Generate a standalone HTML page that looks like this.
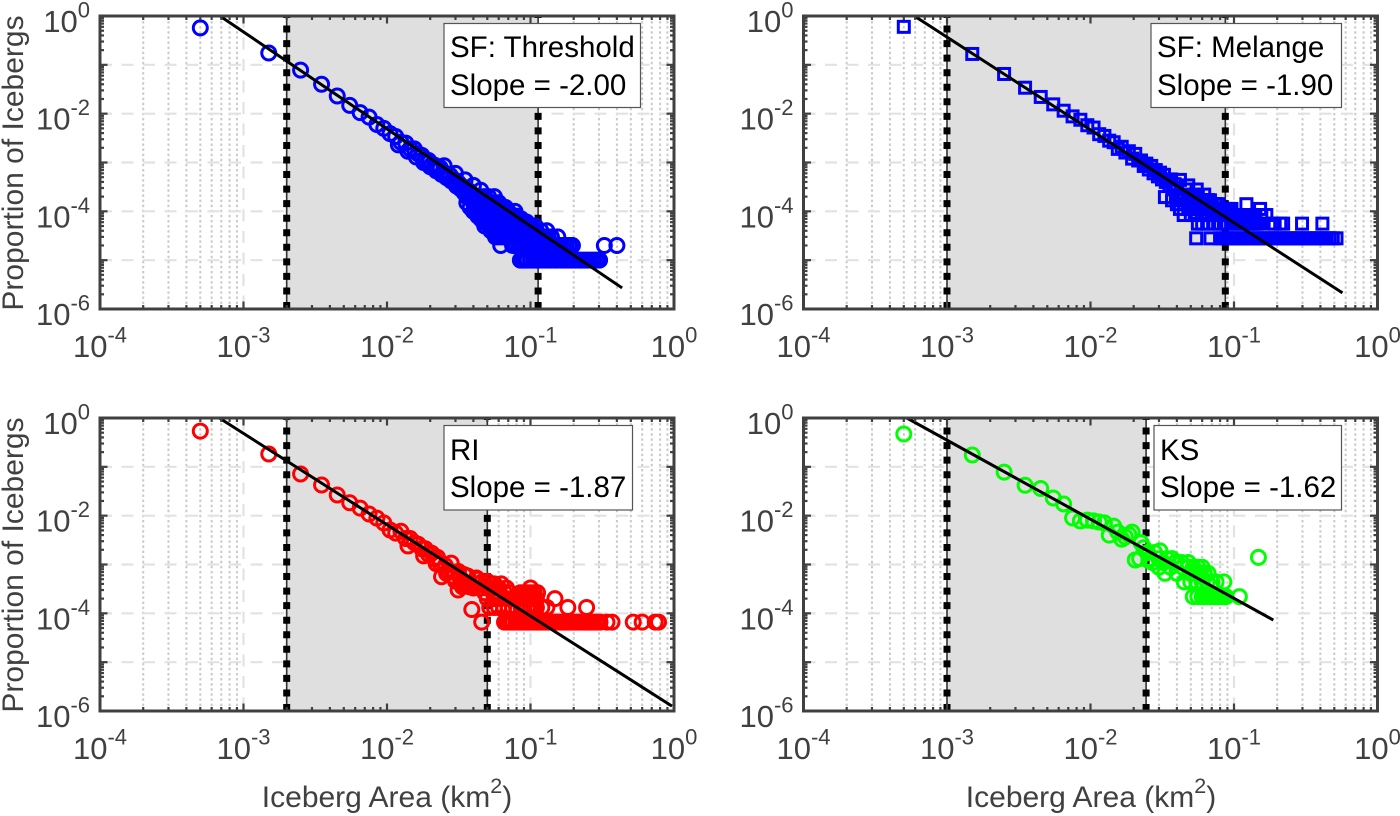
<!DOCTYPE html>
<html lang="en">
<head>
<meta charset="utf-8">
<title>Iceberg area distributions</title>
<style>
html,body{margin:0;padding:0;background:#fff;}
svg{display:block;font-family:"Liberation Sans",Arial,sans-serif;}
.axis-label{font-size:30px;fill:#404040;}
.note{font-size:29.5px;fill:#000;}
</style>
</head>
<body>
<svg id="figure" xmlns="http://www.w3.org/2000/svg" width="1400" height="816" viewBox="0 0 1400 816">
  <rect width="1400" height="816" fill="#fff"/>
  <g id="plots"></g>

  <text class="axis-label" transform="translate(23,163) rotate(-90)" text-anchor="middle">Proportion of Icebergs</text>
  <text class="axis-label" transform="translate(23,565) rotate(-90)" text-anchor="middle">Proportion of Icebergs</text>
  <text class="axis-label" x="387" y="807" text-anchor="middle">Iceberg Area (km<tspan font-size="21.5" dy="-14">2</tspan><tspan dy="14">)</tspan></text>
  <text class="axis-label" x="1091" y="807" text-anchor="middle">Iceberg Area (km<tspan font-size="21.5" dy="-14">2</tspan><tspan dy="14">)</tspan></text>

  <g>
    <rect x="444" y="23.5" width="196.5" height="84" fill="#fff" stroke="#555" stroke-width="1.2"/>
    <text class="note" x="450" y="57">SF: Threshold</text>
    <text class="note" x="450" y="95">Slope = -2.00</text>
  </g>
  <g>
    <rect x="1151" y="23.5" width="190.5" height="84" fill="#fff" stroke="#555" stroke-width="1.2"/>
    <text class="note" x="1157" y="57">SF: Melange</text>
    <text class="note" x="1157" y="95">Slope = -1.90</text>
  </g>
  <g>
    <rect x="444" y="425.5" width="188.5" height="84.5" fill="#fff" stroke="#555" stroke-width="1.2"/>
    <text class="note" x="450" y="460">RI</text>
    <text class="note" x="450" y="497">Slope = -1.87</text>
  </g>
  <g>
    <rect x="1154" y="425.5" width="187.5" height="84.5" fill="#fff" stroke="#555" stroke-width="1.2"/>
    <text class="note" x="1160" y="460">KS</text>
    <text class="note" x="1160" y="497">Slope = -1.62</text>
  </g>
</svg>

<script>
// ---------- Axis data ----------
const xTickExponents = [-4, -3, -2, -1, 0];
const yTickExponents = [0, -1, -2, -3, -4, -5, -6];
const yLabelExponents = [0, -2, -4, -6];
const minorMultipliers = [2, 3, 4, 5, 6, 7, 8, 9];

// ---------- SF: Threshold ----------
const sfThresholdBounds = [0.002, 0.113];
const sfThresholdFitAreas = [0.000685, 0.435];
const sfThresholdFitProps = [1, 0.0000027];
const sfThresholdAreas = [0.0005,0.0015,0.0025,0.0035,0.0045,0.0055,0.0065,0.0075,0.0085,0.0095,0.0105,0.0115,0.0125,0.0135,0.0145,0.0155,0.0165,0.0175,0.0185,0.0195,0.0205,0.0215,0.0225,0.0235,0.0245,0.0255,0.0265,0.0275,0.0285,0.0295,0.0305,0.0315,0.0325,0.0335,0.0345,0.0355,0.0365,0.0375,0.0385,0.0395,0.012,0.014,0.016,0.018,0.02,0.022,0.024,0.026,0.028,0.03,0.032,0.034,0.025,0.03,0.035,0.04,0.045];
const sfThresholdProps = [0.57,0.175,0.078,0.04,0.023,0.0148,0.0105,0.0085,0.006,0.005,0.0039,0.0034,0.0026,0.0025,0.0019,0.0019,0.0015,0.0014,0.0011,0.0011,0.0009,0.00088,0.00075,0.00078,0.0006,0.0006,0.00048,0.00055,0.00042,0.00044,0.00033,0.00038,0.00029,0.00032,0.00024,0.00029,0.00021,0.00026,0.00018,0.00022,0.0023,0.0017,0.0013,0.001,0.00082,0.00068,0.00057,0.00049,0.00042,0.00037,0.00032,0.00028,0.00086,0.0006,0.00044,0.00034,0.00027];
const sfThresholdRowProps = [1e-5,2e-5,3e-5,4e-5,5e-5,6e-5,7e-5,8e-5,1e-4,1.2e-4,1.5e-4,2e-4];
const sfThresholdRowAreas = [
  [0.085,0.088,0.091,0.095,0.1,0.105,0.11,0.115,0.121,0.127,0.133,0.14,0.147,0.154,0.162,0.17,0.178,0.187,0.196,0.206,0.216,0.227,0.238,0.25,0.262,0.275,0.289,0.303],
  [0.062,0.075,0.079,0.083,0.087,0.091,0.095,0.1,0.105,0.11,0.115,0.121,0.127,0.133,0.14,0.147,0.154,0.162,0.17,0.178,0.187,0.196,0.327,0.4],
  [0.057,0.06,0.063,0.066,0.069,0.072,0.075,0.079,0.083,0.087,0.091,0.095,0.1,0.105,0.11,0.115,0.121,0.127,0.133,0.14,0.155],
  [0.053,0.056,0.059,0.062,0.065,0.068,0.071,0.075,0.079,0.083,0.087,0.091,0.095,0.1,0.105,0.11,0.118,0.13],
  [0.048,0.052,0.055,0.058,0.061,0.064,0.067,0.07,0.074,0.078,0.082,0.086,0.09,0.095,0.1,0.108],
  [0.047,0.05,0.053,0.056,0.059,0.062,0.065,0.068,0.072,0.076,0.08,0.084,0.088,0.094],
  [0.045,0.048,0.051,0.054,0.057,0.06,0.063,0.066,0.07,0.074,0.078,0.082,0.086],
  [0.043,0.046,0.049,0.052,0.055,0.058,0.061,0.064,0.068,0.072,0.076,0.08],
  [0.04,0.043,0.046,0.049,0.052,0.055,0.058,0.061,0.065,0.07,0.078],
  [0.038,0.041,0.044,0.047,0.05,0.053,0.056,0.06,0.063,0.067],
  [0.036,0.04,0.043,0.046,0.049,0.052,0.055,0.06],
  [0.036,0.039,0.042,0.045,0.048,0.051,0.056]
];

// ---------- SF: Melange ----------
const sfMelangeBounds = [0.001, 0.087];
const sfMelangeFitAreas = [0.000592, 0.57];
const sfMelangeFitProps = [1, 0.00000214];
const sfMelangeAreas = [0.0005,0.0015,0.0025,0.0035,0.0045,0.0055,0.0065,0.0075,0.0085,0.0095,0.0105,0.0115,0.0125,0.0135,0.0145,0.0155,0.0165,0.0175,0.0185,0.0195,0.0205,0.0215,0.0225,0.0235,0.0245,0.0255,0.0265,0.0275,0.0285,0.0295,0.0305,0.0315,0.0325,0.0335,0.0345,0.0355,0.0365,0.0375,0.0385,0.0395,0.042,0.044,0.046,0.048,0.05,0.052,0.055,0.058,0.062,0.066,0.07,0.075];
const sfMelangeProps = [0.6,0.167,0.065,0.034,0.022,0.0155,0.0115,0.0088,0.0075,0.0058,0.0052,0.0038,0.0035,0.0028,0.0026,0.0019,0.0021,0.0016,0.0017,0.0012,0.0015,0.0011,0.0011,0.00085,0.00095,0.00072,0.00085,0.0006,0.0007,0.00052,0.00062,0.00045,0.00056,0.0004,0.00045,0.00034,0.00045,0.0003,0.00036,0.00028,0.00044,0.00022,0.00028,0.00034,0.00017,0.00022,0.00028,0.00014,0.00022,0.00017,0.00014,0.00014];
const sfMelangeRowProps = [2.8e-5,5.6e-5,8.4e-5,1.12e-4,1.4e-4,1.68e-4,1.96e-4];
const sfMelangeRowAreas = [
  [0.0545,0.0685,0.08,0.084,0.088,0.092,0.097,0.102,0.107,0.112,0.118,0.124,0.13,0.137,0.144,0.151,0.159,0.167,0.175,0.184,0.193,0.203,0.213,0.224,0.235,0.247,0.259,0.272,0.286,0.3,0.315,0.331,0.348,0.365,0.383,0.402,0.422,0.443,0.465,0.488,0.518],
  [0.056,0.06,0.065,0.073,0.08,0.085,0.09,0.096,0.1,0.105,0.11,0.115,0.12,0.125,0.13,0.135,0.14,0.145,0.15,0.185,0.192,0.21,0.22,0.298,0.413],
  [0.0446,0.05,0.055,0.06,0.063,0.066,0.07,0.073,0.077,0.08,0.083,0.086,0.09,0.094,0.098,0.102,0.106,0.11,0.115,0.12,0.125,0.13,0.135,0.14,0.155,0.168],
  [0.042,0.048,0.052,0.055,0.058,0.061,0.064,0.068,0.071,0.074,0.077,0.08,0.084,0.088,0.092,0.096,0.152],
  [0.04,0.045,0.048,0.05,0.053,0.056,0.059,0.062,0.065,0.07,0.074,0.078,0.122],
  [0.037,0.042,0.045,0.048,0.051,0.054,0.057,0.06,0.064,0.068],
  [0.033,0.04,0.043,0.045,0.048,0.05,0.053,0.056]
];

// ---------- RI ----------
const riBounds = [0.002, 0.05];
const riFitAreas = [0.000678, 0.968];
const riFitProps = [1, 0.00000126];
const riAreas = [0.0005,0.0015,0.0025,0.0035,0.0045,0.0055,0.0065,0.0075,0.0085,0.0095,0.0105,0.0115,0.0125,0.0135,0.0145,0.0155,0.0165,0.0175,0.0185,0.0195,0.0205,0.0215,0.0225,0.0235,0.024,0.0255,0.0265,0.028,0.0285,0.0295,0.0313,0.0315,0.0325,0.0335,0.0345,0.0355,0.0365,0.0375,0.039,0.043,0.0457,0.0625,0.05,0.056,0.014,0.018,0.022,0.026,0.03,0.034,0.038,0.042,0.046];
const riProps = [0.54,0.183,0.0715,0.0425,0.0265,0.0184,0.0143,0.0108,0.0089,0.0071,0.0051,0.0044,0.0048,0.0034,0.0034,0.0028,0.0026,0.0021,0.0021,0.0016,0.0017,0.0013,0.0014,0.00105,0.00056,0.00095,0.00075,0.00107,0.00058,0.0007,0.0003,0.00072,0.00052,0.00035,0.00062,0.00042,0.00058,0.00035,0.00012,0.0005,0.000066,0.0004,0.00045,0.00028,0.0024,0.0015,0.00104,0.00066,0.00046,0.0004,0.00037,0.00053,0.00044];
const riRowProps = [6.6e-5,1.32e-4,2e-4,2.64e-4,3.3e-4,4e-4];
const riRowAreas = [
  [0.0659,0.069,0.072,0.075,0.079,0.083,0.087,0.091,0.095,0.1,0.105,0.11,0.115,0.121,0.127,0.133,0.14,0.147,0.154,0.162,0.17,0.178,0.187,0.196,0.206,0.216,0.227,0.238,0.25,0.262,0.275,0.289,0.305,0.341,0.37,0.52,0.6,0.74,0.78],
  [0.052,0.056,0.06,0.065,0.07,0.075,0.08,0.086,0.09,0.095,0.1,0.105,0.11,0.12,0.13,0.182,0.246],
  [0.05,0.056,0.062,0.068,0.074,0.082,0.09,0.095,0.1,0.105,0.11,0.148],
  [0.048,0.055,0.06,0.066,0.072,0.085,0.09,0.095,0.1,0.106,0.112],
  [0.04,0.045,0.05,0.055,0.06,0.068,0.1],
  [0.036,0.042,0.048,0.056]
];

// ---------- KS ----------
const ksBounds = [0.001, 0.0244];
const ksFitAreas = [0.000525, 0.188];
const ksFitProps = [1, 0.0000729];
const ksAreas = [0.0005,0.0015,0.0025,0.0035,0.0045,0.0055,0.0065,0.0075,0.0085,0.0095,0.0105,0.0115,0.0125,0.0135,0.0145,0.0155,0.0165,0.0175,0.0185,0.0195,0.0205,0.0225,0.0235,0.0255,0.0305,0.085,0.109,0.148];
const ksProps = [0.47,0.175,0.078,0.042,0.036,0.023,0.0173,0.00895,0.0078,0.0081,0.0078,0.0074,0.0071,0.004,0.0061,0.0046,0.0033,0.00366,0.0041,0.0046,0.00124,0.0028,0.0022,0.0012,0.0019,0.00044,0.00022,0.0014];
const ksRowProps = [2.2e-4,4.4e-4,6.6e-4,8.8e-4,1.1e-3,1.32e-3,1.76e-3];
const ksRowAreas = [
  [0.052,0.056,0.06,0.062,0.065,0.068,0.07,0.072,0.074,0.076,0.078,0.08,0.082,0.084,0.086,0.088],
  [0.045,0.05,0.055,0.06,0.065,0.07,0.075],
  [0.033,0.04,0.05,0.054,0.058,0.062,0.066],
  [0.03,0.036,0.044,0.048,0.052,0.056,0.06],
  [0.027,0.032,0.039,0.043,0.048],
  [0.022,0.026,0.03,0.034,0.037],
  [0.025,0.028]
];

// ---------- Panel layout (geometry only) ----------
const plotWidth = 574;
const plotHeight = 293;
const panelLefts = [100, 803.5, 100, 803.5];
const panelTops = [16, 16, 418, 418];
const panelKeys = ['sf-threshold', 'sf-melange', 'ri', 'ks'];
const panelColors = ['#0000ff', '#0000ff', '#ff0000', '#00ff00'];
const panelMarkers = ['circle', 'square', 'circle', 'circle'];
const panelBounds = [sfThresholdBounds, sfMelangeBounds, riBounds, ksBounds];
const panelFitAreas = [sfThresholdFitAreas, sfMelangeFitAreas, riFitAreas, ksFitAreas];
const panelFitProps = [sfThresholdFitProps, sfMelangeFitProps, riFitProps, ksFitProps];
const panelAreas = [sfThresholdAreas, sfMelangeAreas, riAreas, ksAreas];
const panelProps = [sfThresholdProps, sfMelangeProps, riProps, ksProps];
const panelRowProps = [sfThresholdRowProps, sfMelangeRowProps, riRowProps, ksRowProps];
const panelRowAreas = [sfThresholdRowAreas, sfMelangeRowAreas, riRowAreas, ksRowAreas];

const SVG_NS = 'http://www.w3.org/2000/svg';
const plotsRoot = document.getElementById('plots');

function make(parent, tag, attrs) {
  const el = document.createElementNS(SVG_NS, tag);
  for (const k in attrs) el.setAttribute(k, attrs[k]);
  parent.appendChild(el);
  return el;
}

function drawPanel(i) {
  const left = panelLefts[i], top = panelTops[i];
  const right = left + plotWidth, bottom = top + plotHeight;
  const key = panelKeys[i];
  const xScale = v => left + (Math.log10(v) + 4) / 4 * plotWidth;
  const yScale = v => top - Math.log10(v) / 6 * plotHeight;

  const g = make(plotsRoot, 'g', {});
  
  

  const clip = make(g, 'clipPath', { id: 'clip-' + i });
  make(clip, 'rect', { x: left, y: top, width: plotWidth, height: plotHeight });

  // minor vertical grid
  xTickExponents.slice(0, -1).forEach(e => {
    minorMultipliers.forEach(m => {
      const x = xScale(m * Math.pow(10, e));
      const line = make(g, 'line', { x1: x, x2: x, y1: top, y2: bottom, stroke: '#c9c9c9', 'stroke-width': 2, 'stroke-dasharray': '2.4 2.7' });
      
      
    });
  });

  // major grid
  xTickExponents.slice(1, -1).forEach(e => {
    const x = xScale(Math.pow(10, e));
    const line = make(g, 'line', { x1: x, x2: x, y1: top, y2: bottom, stroke: '#e2e2e2', 'stroke-width': 2.2, 'stroke-dasharray': '12 9.5' });
    
    
  });
  yTickExponents.slice(1, -1).forEach(e => {
    const y = yScale(Math.pow(10, e));
    const line = make(g, 'line', { x1: left, x2: right, y1: y, y2: y, stroke: '#e2e2e2', 'stroke-width': 2.2, 'stroke-dasharray': '12 9.5' });
    
    
  });

  // shaded fit range
  const bounds = panelBounds[i];
  const patch = make(g, 'rect', { x: xScale(bounds[0]), y: top, width: xScale(bounds[1]) - xScale(bounds[0]), height: plotHeight, fill: '#dfdfdf' });
  
  

  // threshold lines
  bounds.forEach(b => {
    const x = xScale(b);
    const thin = make(g, 'line', { x1: x, x2: x, y1: top, y2: bottom, stroke: '#333', 'stroke-width': 1.6 });
    
    
    const thick = make(g, 'line', { x1: x, x2: x, y1: bottom, y2: top, stroke: '#000', 'stroke-width': 7, 'stroke-dasharray': '7 7.55' });
    
    
  });

  // markers
  const marks = make(g, 'g', { 'clip-path': 'url(#clip-' + i + ')', fill: 'none', stroke: panelColors[i], 'stroke-width': 3 });
  
  
  const addMark = (a, p) => {
    const cx = xScale(a), cy = yScale(p);
    let m;
    if (panelMarkers[i] === 'circle') {
      m = make(marks, 'circle', { cx: cx, cy: cy, r: 7 });
    } else {
      m = make(marks, 'rect', { x: cx - 5.5, y: cy - 5.5, width: 11, height: 11 });
    }
    
    
  };
  panelRowProps[i].forEach((p, r) => panelRowAreas[i][r].forEach(a => addMark(a, p)));
  panelAreas[i].forEach((a, k) => addMark(a, panelProps[i][k]));

  // fitted line
  const fit = make(g, 'line', {
    x1: xScale(panelFitAreas[i][0]), y1: yScale(panelFitProps[i][0]),
    x2: xScale(panelFitAreas[i][1]), y2: yScale(panelFitProps[i][1]),
    stroke: '#000', 'stroke-width': 3, 'clip-path': 'url(#clip-' + i + ')'
  });
  
  

  // ticks
  const ticks = make(g, 'g', { stroke: '#404040', 'stroke-width': 2.2 });
  
  
  xTickExponents.forEach(e => {
    const x = xScale(Math.pow(10, e));
    make(ticks, 'line', { x1: x, x2: x, y1: bottom, y2: bottom - 7.5 });
    make(ticks, 'line', { x1: x, x2: x, y1: top, y2: top + 7.5 });
    if (e < 0) minorMultipliers.forEach(m => {
      const mx = xScale(m * Math.pow(10, e));
      make(ticks, 'line', { x1: mx, x2: mx, y1: bottom, y2: bottom - 4 });
      make(ticks, 'line', { x1: mx, x2: mx, y1: top, y2: top + 4 });
    });
  });
  yTickExponents.forEach(e => {
    const y = yScale(Math.pow(10, e));
    make(ticks, 'line', { x1: left, x2: left + 7.5, y1: y, y2: y });
    make(ticks, 'line', { x1: right, x2: right - 7.5, y1: y, y2: y });
    if (e > -6) minorMultipliers.forEach(m => {
      const my = yScale(m * Math.pow(10, e - 1));
      make(ticks, 'line', { x1: left, x2: left + 4, y1: my, y2: my });
      make(ticks, 'line', { x1: right, x2: right - 4, y1: my, y2: my });
    });
  });

  // axes box
  const box = make(g, 'rect', { x: left, y: top, width: plotWidth, height: plotHeight, fill: 'none', stroke: '#404040', 'stroke-width': 3 });
  
  

  // tick labels
  const addLabel = (x, y, anchor, exp, name) => {
    const t = make(g, 'text', { x: x, y: y, 'text-anchor': anchor, 'font-size': 31, fill: '#404040' });
    
    
    const base = make(t, 'tspan', {});
    base.textContent = '10';
    const sup = make(t, 'tspan', { 'font-size': 22, dy: -14.5 });
    sup.textContent = String(exp);
  };
  xTickExponents.forEach(e => addLabel(xScale(Math.pow(10, e)), bottom + 48, 'middle', e, 'x-tick-label'));
  yLabelExponents.forEach(e => addLabel(left - 10, yScale(Math.pow(10, e)) + 16, 'end', e, 'y-tick-label'));
}

panelKeys.forEach((k, i) => drawPanel(i));
</script>
</body>
</html>
